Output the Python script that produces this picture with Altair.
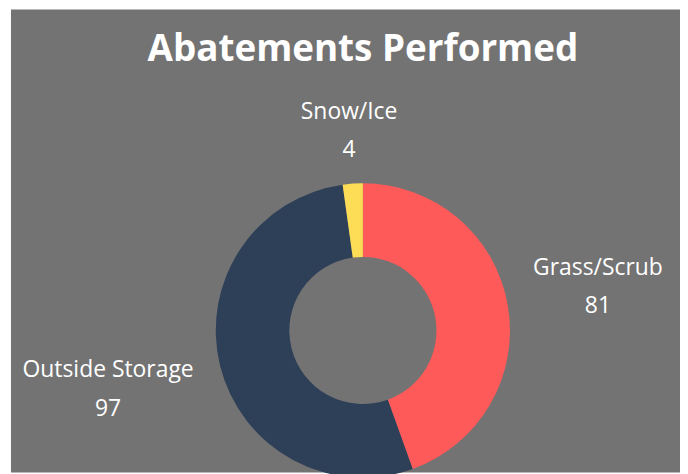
import altair as alt
import pandas as pd

categories = ["Grass/Scrub", "Outside Storage", "Snow/Ice"]
values = [81, 97, 4]
order_idx = [0, 1, 2]
colors = ["#FE5A5A", "#2E3F58", "#FDDC56"]
title_text = "Abatements Performed"

df = pd.DataFrame({"category": categories, "value": values, "idx": order_idx})
total = sum(values)

W, H = 676, 466
CX, CY = 357, 323
FONT = "Open Sans"

theta_scale = alt.Scale(domain=[0, total])
base = alt.Chart(df)

bg = alt.Chart(alt.Data(values=[{}])).mark_rect(color="#737373").encode(
    x=alt.value(3), x2=alt.value(W), y=alt.value(0), y2=alt.value(H)
)

arc = base.mark_arc(innerRadius=74, outerRadius=148, stroke=None).encode(
    theta=alt.Theta("value:Q", stack=True, scale=theta_scale),
    color=alt.Color("category:N", scale=alt.Scale(domain=categories, range=colors), legend=None),
    order=alt.Order("idx:Q"),
    x=alt.value(CX),
    y=alt.value(CY),
)

def label_layer(cat, radius, shift):
    src = (
        base.transform_window(cum="sum(value)", sort=[alt.SortField("idx")])
        .transform_calculate(mid="datum.cum - datum.value / 2", num="'' + datum.value")
        .transform_filter(alt.datum.category == cat)
    )
    enc = dict(
        theta=alt.Theta("mid:Q", stack=None, scale=theta_scale),
        x=alt.value(CX),
        y=alt.value(CY),
    )
    name = src.mark_text(radius=radius, dy=shift - 19.5, font=FONT, fontSize=23,
                         color="white", align="center", baseline="middle").encode(
        text="category:N", **enc)
    num = src.mark_text(radius=radius, dy=shift + 19.5, font=FONT, fontSize=23,
                        color="white", align="center", baseline="middle").encode(
        text="num:N", **enc)
    return [name, num]

labels = []
labels += label_layer("Grass/Scrub", 240, -2.5)
labels += label_layer("Outside Storage", 264, -3.5)
labels += label_layer("Snow/Ice", 201, 0)

title = alt.Chart(alt.Data(values=[{"t": title_text}])).mark_text(
    font=FONT, fontSize=37, fontWeight="bold", color="white",
    align="center", baseline="alphabetic"
).encode(text="t:N", x=alt.value(CX), y=alt.value(52))

chart = alt.layer(bg, arc, *labels, title).properties(
    width=W, height=H, padding=0, background="white",
    autosize=alt.AutoSizeParams(type="none"),
).configure_view(stroke=None)

chart.save("out.html", embed_options={"renderer": "svg", "actions": False})
